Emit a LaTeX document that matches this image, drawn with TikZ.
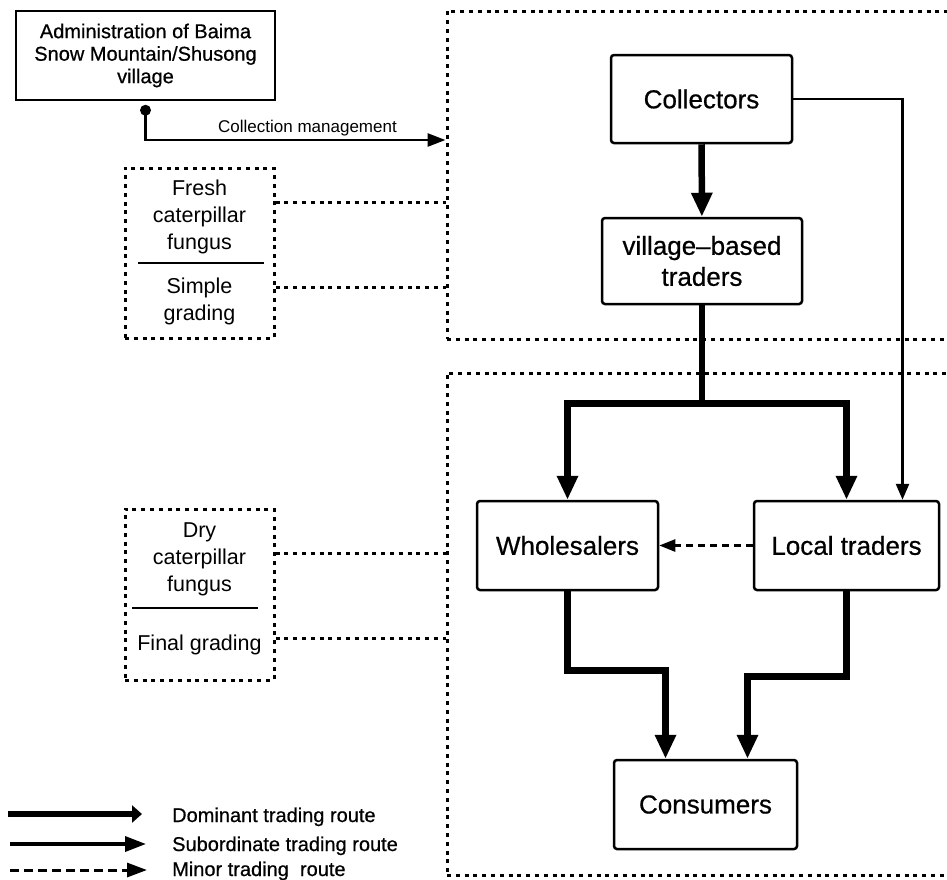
\documentclass[tikz,border=0pt]{standalone}
\usepackage{fontspec}
\setmainfont{Liberation Sans}
\newfontfamily\medfont{Liberation Sans}[Ligatures=TeX,FakeBold=0.6]
\usetikzlibrary{arrows.meta,calc}

\tikzset{
  box/.style={draw, line width=2.5pt, rounded corners=3pt, align=center,
    minimum width=181pt, minimum height=88pt, font=\medfont\fontsize{26}{31}\selectfont},
  adminbox/.style={draw, line width=2.5pt, align=center,
    minimum width=259pt, minimum height=89pt, font=\medfont\fontsize{20}{22.5}\selectfont},
  region/.style={draw, line width=3pt, dash pattern=on 4pt off 4.8pt, minimum width=553pt},
  stagebox/.style={draw, line width=3pt, dash pattern=on 4pt off 4.8pt, minimum width=149pt},
  stagetext/.style={align=center, inner sep=0pt, font=\fontsize{21.5}{27}\selectfont},
  dotline/.style={line width=3pt, dash pattern=on 4pt off 4.8pt},
  dominant/.style={line width=6.5pt, -{Triangle[length=24pt,width=20pt]}},
  subordinate/.style={line width=2.5pt, -{Triangle[length=16pt,width=13pt]}},
  minor/.style={line width=2.5pt, dash pattern=on 7pt off 5pt, -{Triangle[length=16pt,width=12pt]}},
  mgmt/.style={line width=2.8pt, -{Triangle[length=18pt,width=13pt]}},
  legendtext/.style={anchor=base west, inner sep=0pt, font=\medfont\fontsize{20}{24}\selectfont}
}

\begin{document}
\begin{tikzpicture}[x=1pt,y=-1pt]
\useasboundingbox (0,0) rectangle (947,879);

% stages of the trade
\node[region, minimum height=328pt] (upper) at (723.5,175) {};
\node[region, minimum height=502pt] (lower) at (723.5,624) {};

% actors
\node[adminbox] (admin) at (145.5,55.5) {Administration of Baima\\Snow Mountain/Shusong\\village};
\node[box] (collectors) at (701.5,99) {Collectors};
\node[box, minimum width=200pt, minimum height=86pt] (village) at (702,261) {village–based\\traders};
\node[box, minimum height=89pt] (wholesalers) at (567.5,545.5) {Wholesalers};
\node[box, minimum width=185pt, minimum height=89pt] (localtr) at (846.5,545.5) {Local traders};
\node[box, minimum width=183pt, minimum height=89pt] (consumers) at (705.5,804.5) {Consumers};

% product and grading
\node[stagebox, minimum height=170pt] (fresh) at (199.5,253) {};
\node[stagetext] (freshtop) at (199.5,216.5) {Fresh\\caterpillar\\fungus};
\node[stagetext] (freshbot) at (199.5,301.5) {Simple\\grading};
\draw[line width=2.5pt] (138,263) -- (264,263);

\node[stagebox, minimum height=171pt] (dry) at (199.5,594.5) {};
\node[stagetext] (drytop) at (199.5,559) {Dry\\caterpillar\\fungus};
\node[stagetext] (drybot) at (199.5,645) {Final grading};
\draw[line width=2.5pt] (132,608) -- (258,608);

\foreach \y in {202,287}
  \draw[dotline] (fresh.east |- 0,\y) -- (upper.west |- 0,\y);
\foreach \y in {553,638}
  \draw[dotline] (dry.east |- 0,\y) -- (lower.west |- 0,\y);

% management
\coordinate (adot) at ($(admin.south)+(0,9)$);
\fill (adot) circle (5.5pt);
\draw[mgmt] (adot) |- (upper.west |- 0,140);
\node[anchor=base west, inner sep=0pt, font=\fontsize{17}{20}\selectfont] (mgmtlabel) at (218,132) {Collection management};

% trading routes
\draw[dominant] (collectors) -- (village);
\coordinate (split) at ($(village.south)+(0,98)$);
\draw[line width=6.5pt] (village.south) -- (split);
\draw[dominant] (split) -| (wholesalers.north);
\draw[dominant] (split) -| (localtr.north);
\draw[dominant] (wholesalers.south) -- ++(0,79) -| ([xshift=-40pt]consumers.north);
\draw[dominant] (localtr.south) -- ++(0,85) -| ([xshift=42pt]consumers.north);
\draw[subordinate] (collectors.east) -| ([xshift=56pt]localtr.north);
\draw[minor] (localtr.west) -- (wholesalers.east);

% legend
\coordinate (dom0) at (8,814);   \coordinate (dom1) at (142,814);
\coordinate (sub0) at (10,844);  \coordinate (sub1) at (146,844);
\coordinate (min0) at (10,870);  \coordinate (min1) at (147,870);
\draw[line width=6.5pt, -{Triangle[length=10pt,width=17pt]}] (dom0) -- (dom1);
\draw[line width=3.5pt, -{Triangle[length=21pt,width=15pt]}] (sub0) -- (sub1);
\draw[line width=3pt, dash pattern=on 9pt off 5pt, -{Triangle[length=20pt,width=14pt]}] (min0) -- (min1);
\node[legendtext] (domtext) at (172,822) {Dominant trading route};
\node[legendtext] (subtext) at (172,851) {Subordinate trading route};
\node[legendtext] (mintext) at (172,876) {Minor trading~ route};

\end{tikzpicture}
\end{document}
